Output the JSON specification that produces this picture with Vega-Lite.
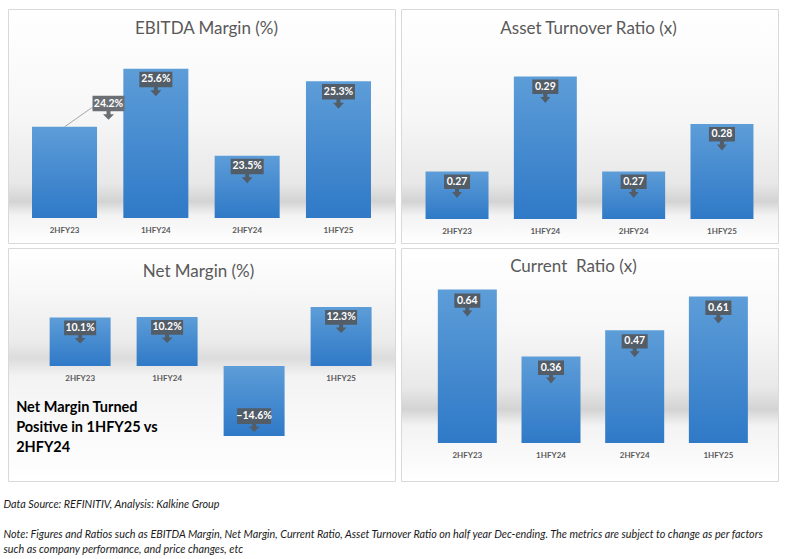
{
  "$schema": "https://vega.github.io/schema/vega-lite/v6.json",
  "padding": {"left": 3, "top": 8, "right": 0, "bottom": 0},
  "background": "white",
  "config": {
    "font": "Lato",
    "view": {"stroke": "#d9d9d9", "strokeWidth": 1},
    "axisX": {"labelAngle": 0, "domain": false, "ticks": false, "grid": false, "labelPadding": 8, "labelFontSize": 8, "labelFontWeight": "bold", "labelColor": "#595959", "title": null, "zindex": 1}
  },
  "datasets": {
    "ebitda": [
      {"period": "2HFY23", "value": 24.2},
      {"period": "1HFY24", "value": 25.6},
      {"period": "2HFY24", "value": 23.5},
      {"period": "1HFY25", "value": 25.3}
    ],
    "asset": [
      {"period": "2HFY23", "value": 0.27},
      {"period": "1HFY24", "value": 0.29},
      {"period": "2HFY24", "value": 0.27},
      {"period": "1HFY25", "value": 0.28}
    ],
    "net": [
      {"period": "2HFY23", "value": 10.1},
      {"period": "1HFY24", "value": 10.2},
      {"period": "2HFY24", "value": -14.6},
      {"period": "1HFY25", "value": 12.3}
    ],
    "current": [
      {"period": "2HFY23", "value": 0.64},
      {"period": "1HFY24", "value": 0.36},
      {"period": "2HFY24", "value": 0.47},
      {"period": "1HFY25", "value": 0.61}
    ]
  },
  "title": {
    "text": "Data Source: REFINITIV, Analysis: Kalkine Group",
    "subtitle": ["Note: Figures and Ratios such as EBITDA Margin, Net Margin, Current Ratio, Asset Turnover Ratio on half year Dec-ending. The metrics are subject to change as per factors", "such as company performance, and price changes, etc"],
    "orient": "bottom", "anchor": "start", "frame": "bounds", "offset": 17, "dx": -4,
    "font": "Lato", "fontSize": 10.8, "fontStyle": "italic", "fontWeight": "normal", "color": "#1a1a1a",
    "subtitleFont": "Lato", "subtitleFontSize": 10.8, "subtitleFontStyle": "italic", "subtitleColor": "#1a1a1a", "subtitlePadding": 20, "subtitleLineHeight": 15
  },
  "spacing": 3,
  "vconcat": [
    {
      "spacing": 4,
      "hconcat": [
        {
          "width": 387, "height": 234,
          "view": {"fill": {"gradient": "linear", "x1": 0, "y1": 0, "x2": 0, "y2": 1, "stops": [{"offset": 0, "color": "#ffffff"}, {"offset": 0.45, "color": "#f7f7f7"}, {"offset": 0.74, "color": "#e8e8e8"}, {"offset": 0.82, "color": "#d3d3d3"}, {"offset": 0.88, "color": "#f3f3f3"}, {"offset": 1, "color": "#ffffff"}]}},
          "data": {"name": "ebitda"},
          "title": {"text": "EBITDA Margin (%)", "orient": "top", "frame": "group", "anchor": "middle", "offset": -29, "dx": 5, "fontSize": 17, "fontWeight": "normal", "color": "#595959", "font": "Lato"},
          "encoding": {
            "x": {"field": "period", "type": "nominal", "sort": null, "scale": {"paddingInner": 0.288, "paddingOuter": 0.263, "align": 0.5}, "axis": {"offset": -25}}
          },
          "layer": [
            {
              "mark": {"type": "bar", "color": {"gradient": "linear", "x1": 0, "y1": 0, "x2": 0, "y2": 1, "stops": [{"offset": 0, "color": "#5d9dd8"}, {"offset": 1, "color": "#2f79c7"}]}},
              "encoding": {
                "y": {"field": "value", "type": "quantitative", "scale": {"domain": [21.397, 27.045], "nice": false, "zero": false}, "axis": null},
                "y2": {"datum": 22}
              }
            },
            {
              "transform": [{"filter": "datum.period !== '2HFY23'"}],
              "mark": {"type": "point", "shape": "M-1.65,0.28H1.65V1.83H0.2V2.15H0.55L0,2.75L-0.55,2.15H-0.2V1.83H-1.65Z", "size": 400, "filled": true, "opacity": 1, "color": "#525d68"},
              "encoding": {"y": {"field": "value", "type": "quantitative"}}
            },
            {
              "transform": [{"filter": "datum.period === '2HFY23'"}],
              "mark": {"type": "point", "shape": "M0,0L2.7,-1.9L2.85,-1.9", "size": 400, "filled": false, "opacity": 1, "stroke": "#a6a6a6", "strokeWidth": 1},
              "encoding": {"y": {"field": "value", "type": "quantitative"}}
            },
            {
              "transform": [{"filter": "datum.period === '2HFY23'"}],
              "mark": {"type": "point", "shape": "M2.8,-3.1H6.0V-1.55H4.6V-1.25H4.95L4.4,-0.7L3.85,-1.25H4.2V-1.55H2.8Z", "size": 400, "filled": true, "opacity": 1, "color": "#6b6f73"},
              "encoding": {"y": {"field": "value", "type": "quantitative"}}
            },
            {
              "transform": [{"filter": "datum.period !== '2HFY23'"}, {"calculate": "format(datum.value, '.1f') + '%'", "as": "label"}],
              "mark": {"type": "text", "dy": 10.5, "color": "white", "fontWeight": "bold", "fontSize": 10.5, "baseline": "middle"},
              "encoding": {"y": {"field": "value", "type": "quantitative"}, "text": {"field": "label"}}
            },
            {
              "transform": [{"filter": "datum.period === '2HFY23'"}, {"calculate": "format(datum.value, '.1f') + '%'", "as": "label"}],
              "mark": {"type": "text", "dx": 44, "dy": -23, "color": "white", "fontWeight": "bold", "fontSize": 10.5, "baseline": "middle"},
              "encoding": {"y": {"field": "value", "type": "quantitative"}, "text": {"field": "label"}}
            }
          ]
        },
        {
          "width": 377, "height": 234,
          "view": {"fill": {"gradient": "linear", "x1": 0, "y1": 0, "x2": 0, "y2": 1, "stops": [{"offset": 0, "color": "#ffffff"}, {"offset": 0.45, "color": "#f7f7f7"}, {"offset": 0.74, "color": "#e8e8e8"}, {"offset": 0.82, "color": "#d3d3d3"}, {"offset": 0.88, "color": "#f3f3f3"}, {"offset": 1, "color": "#ffffff"}]}},
          "data": {"name": "asset"},
          "title": {"text": "Asset Turnover Ratio (x)", "orient": "top", "frame": "group", "anchor": "middle", "offset": -29, "dx": -1, "fontSize": 17, "fontWeight": "normal", "color": "#595959", "font": "Lato"},
          "encoding": {
            "x": {"field": "period", "type": "nominal", "sort": null, "scale": {"paddingInner": 0.287, "paddingOuter": 0.278, "align": 0.5}, "axis": {"offset": -24}}
          },
          "layer": [
            {
              "mark": {"type": "bar", "color": {"gradient": "linear", "x1": 0, "y1": 0, "x2": 0, "y2": 1, "stops": [{"offset": 0, "color": "#5d9dd8"}, {"offset": 1, "color": "#2f79c7"}]}},
              "encoding": {
                "y": {"field": "value", "type": "quantitative", "scale": {"domain": [0.25495, 0.30421], "nice": false, "zero": false}, "axis": null},
                "y2": {"datum": 0.26}
              }
            },
            {
              "mark": {"type": "point", "shape": "M-1.3,0.3H1.3V1.75H0.2V2.05H0.5L0,2.65L-0.5,2.05H-0.2V1.75H-1.3Z", "size": 400, "filled": true, "opacity": 1, "color": "#525d68"},
              "encoding": {"y": {"field": "value", "type": "quantitative"}}
            },
            {
              "mark": {"type": "text", "dy": 10.3, "color": "white", "fontWeight": "bold", "fontSize": 10.5, "baseline": "middle"},
              "encoding": {"y": {"field": "value", "type": "quantitative"}, "text": {"field": "value", "type": "quantitative", "format": ".2f"}}
            }
          ]
        }
      ]
    },
    {
      "spacing": 4,
      "hconcat": [
        {
          "width": 387, "height": 233,
          "view": {"fill": {"gradient": "linear", "x1": 0, "y1": 0, "x2": 0, "y2": 1, "stops": [{"offset": 0, "color": "#ffffff"}, {"offset": 0.2, "color": "#f7f7f7"}, {"offset": 0.4, "color": "#ebebeb"}, {"offset": 0.47, "color": "#dcdcdc"}, {"offset": 0.55, "color": "#f3f3f3"}, {"offset": 1, "color": "#ffffff"}]}},
          "data": {"name": "net"},
          "title": {"text": "Net Margin (%)", "orient": "top", "frame": "group", "anchor": "middle", "offset": -33, "dx": -3, "fontSize": 17, "fontWeight": "normal", "color": "#595959", "font": "Lato"},
          "encoding": {
            "x": {"field": "period", "type": "nominal", "sort": null, "scale": {"paddingInner": 0.299, "paddingOuter": 0.374, "align": 0.64}, "axis": {"offset": -115}}
          },
          "layer": [
            {
              "mark": {"type": "bar", "color": {"gradient": "linear", "x1": 0, "y1": 0, "x2": 0, "y2": 1, "stops": [{"offset": 0, "color": "#5d9dd8"}, {"offset": 1, "color": "#2f79c7"}]}},
              "encoding": {
                "y": {"field": "value", "type": "quantitative", "scale": {"domain": [-23.96, 24.58], "nice": false, "zero": false}, "axis": null},
                "y2": {"datum": 0}
              }
            },
            {
              "transform": [{"filter": "datum.value >= 0"}],
              "mark": {"type": "point", "shape": "M-1.6,0.3H1.6V1.77H0.2V2.05H0.55L0,2.6L-0.55,2.05H-0.2V1.77H-1.6Z", "size": 400, "filled": true, "opacity": 1, "color": "#525d68"},
              "encoding": {"y": {"field": "value", "type": "quantitative"}}
            },
            {
              "transform": [{"filter": "datum.value < 0"}],
              "mark": {"type": "point", "shape": "M-1.7,-2.77H1.7V-1.2H0.2V-0.95H0.55L0,-0.4L-0.55,-0.95H-0.2V-1.2H-1.7Z", "size": 400, "filled": true, "opacity": 1, "color": "#525d68"},
              "encoding": {"y": {"field": "value", "type": "quantitative"}}
            },
            {
              "transform": [{"filter": "datum.value >= 0"}, {"calculate": "format(datum.value, '.1f') + '%'", "as": "label"}],
              "mark": {"type": "text", "dy": 10.3, "color": "white", "fontWeight": "bold", "fontSize": 10.5, "baseline": "middle"},
              "encoding": {"y": {"field": "value", "type": "quantitative"}, "text": {"field": "label"}}
            },
            {
              "transform": [{"filter": "datum.value < 0"}, {"calculate": "format(datum.value, '.1f') + '%'", "as": "label"}],
              "mark": {"type": "text", "dy": -19.8, "color": "white", "fontWeight": "bold", "fontSize": 10.5, "baseline": "middle"},
              "encoding": {"y": {"field": "value", "type": "quantitative"}, "text": {"field": "label"}}
            },
            {
              "data": {"values": [{"note": ["Net Margin Turned", "Positive in 1HFY25 vs", "2HFY24"]}]},
              "mark": {"type": "text", "align": "left", "baseline": "middle", "dx": -64, "fontSize": 14.5, "fontWeight": "bold", "color": "#000000", "lineHeight": 20},
              "encoding": {"x": {"datum": "2HFY23"}, "y": {"datum": -8.75}, "text": {"field": "note"}}
            }
          ]
        },
        {
          "width": 377, "height": 233,
          "view": {"fill": {"gradient": "linear", "x1": 0, "y1": 0, "x2": 0, "y2": 1, "stops": [{"offset": 0, "color": "#ffffff"}, {"offset": 0.35, "color": "#f7f7f7"}, {"offset": 0.6, "color": "#e8e8e8"}, {"offset": 0.69, "color": "#d3d3d3"}, {"offset": 0.76, "color": "#f3f3f3"}, {"offset": 1, "color": "#ffffff"}]}},
          "data": {"name": "current"},
          "title": {"text": "Current\u00a0 Ratio (x)", "orient": "top", "frame": "group", "anchor": "middle", "offset": -28, "dx": -16, "fontSize": 17, "fontWeight": "normal", "color": "#595959", "font": "Lato"},
          "encoding": {
            "x": {"field": "period", "type": "nominal", "sort": null, "scale": {"paddingInner": 0.295, "paddingOuter": 0.4, "align": 0.55}, "axis": {"offset": -38}}
          },
          "layer": [
            {
              "mark": {"type": "bar", "color": {"gradient": "linear", "x1": 0, "y1": 0, "x2": 0, "y2": 1, "stops": [{"offset": 0, "color": "#5d9dd8"}, {"offset": 1, "color": "#2f79c7"}]}},
              "encoding": {
                "y": {"field": "value", "type": "quantitative", "scale": {"domain": [-0.1583, 0.8125], "nice": false, "zero": false}, "axis": null},
                "y2": {"datum": 0}
              }
            },
            {
              "mark": {"type": "point", "shape": "M-1.3,0.4H1.3V1.83H0.2V2.1H0.5L0,2.7L-0.5,2.1H-0.2V1.83H-1.3Z", "size": 400, "filled": true, "opacity": 1, "color": "#525d68"},
              "encoding": {"y": {"field": "value", "type": "quantitative"}}
            },
            {
              "mark": {"type": "text", "dy": 11.2, "color": "white", "fontWeight": "bold", "fontSize": 10.5, "baseline": "middle"},
              "encoding": {"y": {"field": "value", "type": "quantitative"}, "text": {"field": "value", "type": "quantitative", "format": ".2f"}}
            }
          ]
        }
      ]
    }
  ]
}
